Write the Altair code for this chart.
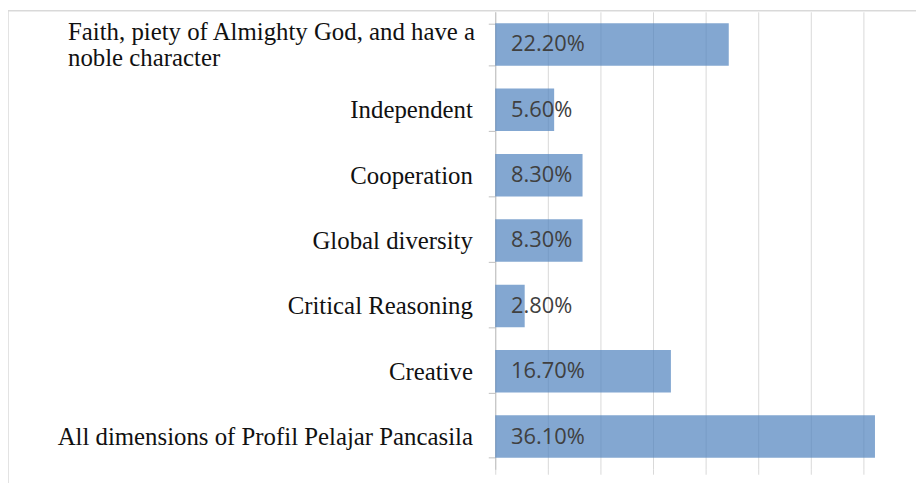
import altair as alt
import pandas as pd

categories = [
    "Faith, piety of Almighty God, and have a noble character",
    "Independent",
    "Cooperation",
    "Global diversity",
    "Critical Reasoning",
    "Creative",
    "All dimensions of Profil Pelajar Pancasila",
]
values = [0.222, 0.056, 0.083, 0.083, 0.028, 0.167, 0.361]
x_ticks = [0, 0.05, 0.10, 0.15, 0.20, 0.25, 0.30, 0.35, 0.40]

df = pd.DataFrame({"category": categories, "value": values})

FIRST = "Faith, piety of Almighty God, and have a noble character"
is_first = f"datum.value == '{FIRST}'"
label_expr = (
    f"datum.label == '{FIRST}' "
    "? ['Faith, piety of Almighty God, and have a', 'noble character'] : datum.label"
)

y_enc = alt.Y(
    "category:N",
    sort=categories,
    title=None,
    scale=alt.Scale(paddingInner=0.35, paddingOuter=0.175),
    axis=alt.Axis(
        labelExpr=label_expr,
        labelFont="Liberation Serif",
        labelFontSize=25,
        labelColor="#111111",
        labelLimit=0,
        labelLineHeight=26,
        labelAlign=alt.condition(is_first, alt.value("left"), alt.value("right")),
        labelPadding=alt.condition(is_first, alt.value(424), alt.value(16)),
        labelOffset=alt.condition(is_first, alt.value(-13), alt.value(0)),
        tickBand="extent",
        tickSize=7,
        tickColor="#bfbfbf",
        domainColor="#bfbfbf",
        domainWidth=1,
        grid=False,
    ),
)

x_enc = alt.X(
    "value:Q",
    title=None,
    scale=alt.Scale(domain=[0, 0.4], nice=False),
    axis=alt.Axis(
        values=x_ticks,
        labels=False,
        domain=False,
        tickSize=5,
        tickColor="#d9d9d9",
        grid=True,
        gridColor="#d9d9d9",
        gridWidth=1,
    ),
)

base = alt.Chart(df)

bars = base.mark_bar(color="#4F81BD", opacity=0.7).encode(x=x_enc, y=y_enc)

labels = base.mark_text(
    align="left",
    baseline="middle",
    dx=16,
    font="Open Sans",
    fontSize=22,
    color="#404040",
).encode(
    x=alt.datum(0),
    y=alt.Y("category:N", sort=categories),
    text=alt.Text("value:Q", format=".2%"),
)

border_data = alt.Data(values=[{"b": 1}])
top_border = alt.Chart(border_data).mark_rule(color="#d9d9d9", strokeWidth=1.5).encode(
    x=alt.value(-491), x2=alt.value(440), y=alt.value(-1)
)
left_border = alt.Chart(border_data).mark_rule(color="#d9d9d9", strokeWidth=1.5).encode(
    x=alt.value(-491), y=alt.value(-1), y2=alt.value(480)
)

chart = (
    alt.layer(bars, labels, top_border, left_border)
    .properties(
        width=424,
        height=461,
        autosize=alt.AutoSizeParams(type="none"),
        padding={"left": 491, "top": 2, "right": 0, "bottom": 12},
    )
    .configure_view(stroke=None)
)

chart.save("out.html", embed_options={"renderer": "svg", "actions": False})
